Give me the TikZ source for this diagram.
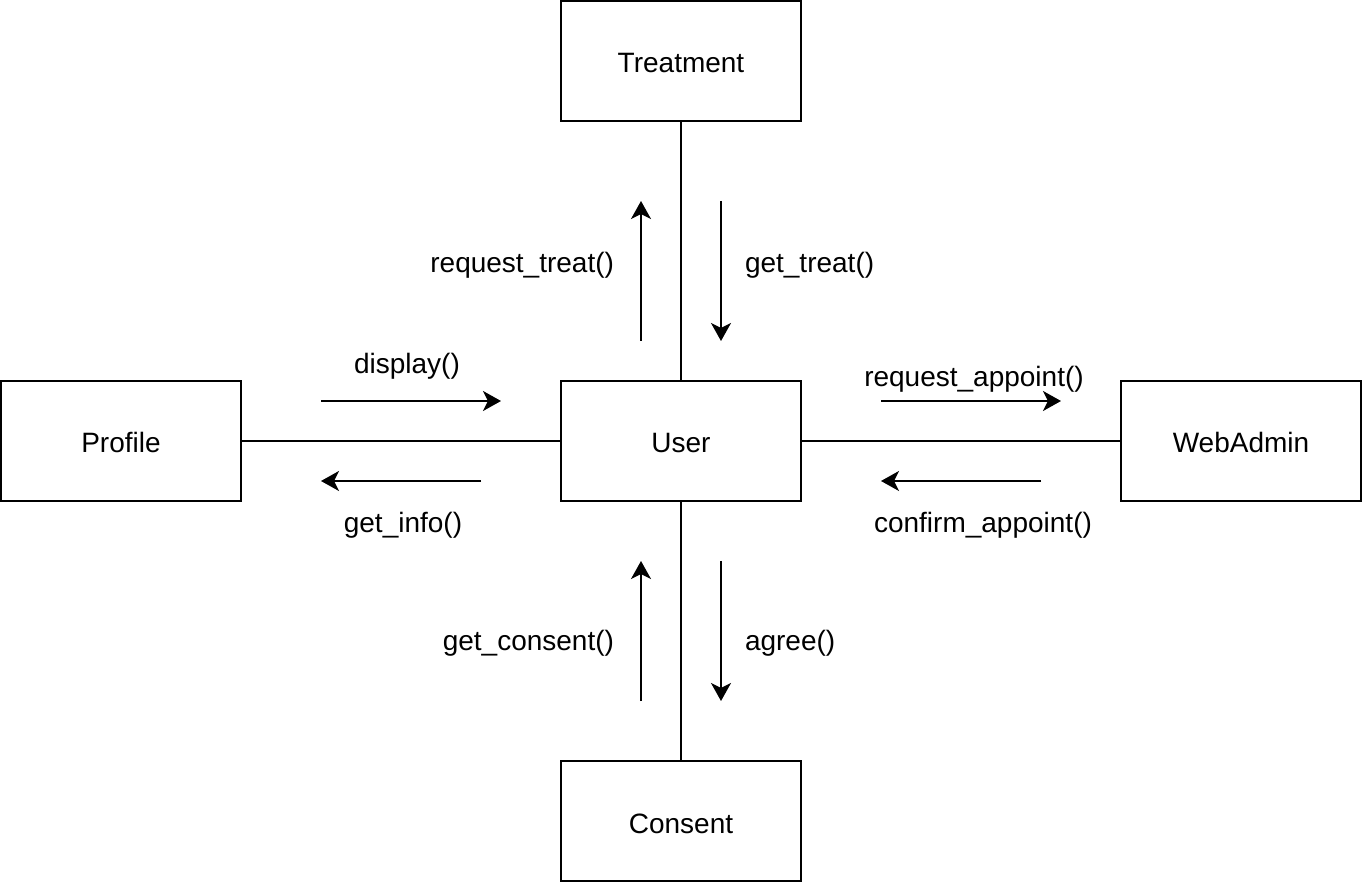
\documentclass[tikz,border=0pt]{standalone}
\usepackage{fontspec}
\setmainfont{Liberation Sans}
\usetikzlibrary{arrows.meta}

\begin{document}
\begin{tikzpicture}[x=0.5pt, y=-0.5pt,
    font=\fontsize{14}{17}\selectfont,
    every path/.style={line width=1pt},
    box/.style={draw, line width=1pt, minimum width=120pt, minimum height=60pt, inner sep=0pt,
                text height=1.2em, text depth=0pt},
    msg/.style={-{Stealth[length=9pt, width=10pt, inset=2.5pt]}},
    lbl/.style={inner sep=0pt, yshift=-2pt}]
    \useasboundingbox (0,0) rectangle (1362,882);
    % classes
    \node[box] (treat) at (681,61) {Treatment};
    \node[box] (user) at (681,441) {User};
    \node[box] (prof) at (121,441) {Profile};
    \node[box] (admin) at (1241,441) {WebAdmin};
    \node[box] (cons) at (681,821) {Consent};
    % links
    \draw (treat) -- (user);
    \draw (prof) -- (user);
    \draw (user) -- (admin);
    \draw (user) -- (cons);
    % message ends
    \coordinate (rt-a) at (641,341); \coordinate (rt-b) at (641,201);
    \coordinate (gt-a) at (721,201); \coordinate (gt-b) at (721,341);
    \coordinate (di-a) at (321,401); \coordinate (di-b) at (501,401);
    \coordinate (gi-a) at (481,481); \coordinate (gi-b) at (321,481);
    \coordinate (ra-a) at (881,401); \coordinate (ra-b) at (1061,401);
    \coordinate (ca-a) at (1041,481); \coordinate (ca-b) at (881,481);
    \coordinate (gc-a) at (641,701); \coordinate (gc-b) at (641,561);
    \coordinate (ag-a) at (721,561); \coordinate (ag-b) at (721,701);
    \foreach \m in {rt,gt,di,gi,ra,ca,gc,ag}
      \draw[msg] (\m-a) -- (\m-b);
    % messages
    \node[lbl, anchor=mid east] (rt) at (615,263) {request\_treat()};
    \node[lbl, anchor=mid west] (gt) at (744,263) {get\_treat()};
    \node[lbl, anchor=mid] (di) at (407,364) {display()};
    \node[lbl, anchor=mid] (gi) at (403,523) {get\_info()};
    \node[lbl, anchor=mid] (ra) at (974,377) {request\_appoint()};
    \node[lbl, anchor=mid] (ca) at (983,523) {confirm\_appoint()};
    \node[lbl, anchor=mid east] (gc) at (615,641) {get\_consent()};
    \node[lbl, anchor=mid west] (ag) at (744,641) {agree()};
\end{tikzpicture}
\end{document}
